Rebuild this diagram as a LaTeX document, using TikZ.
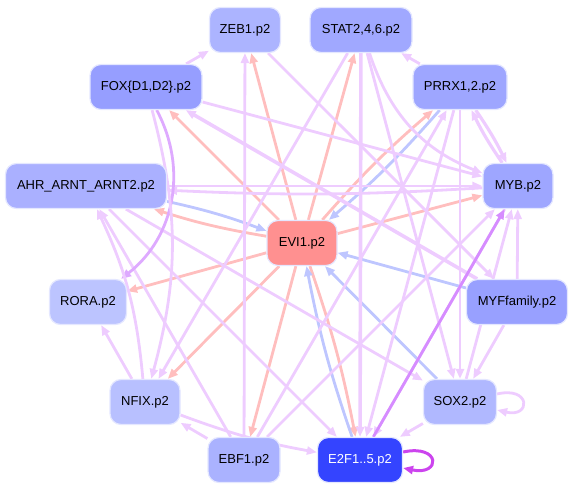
\documentclass[tikz,border=0pt]{standalone}
\usepackage{fontspec}
\setmainfont{Liberation Sans}
\usetikzlibrary{arrows.meta,backgrounds}

\definecolor{lav}{RGB}{238,204,255}
\definecolor{lavDark}{RGB}{222,170,255}
\definecolor{lavDeep}{RGB}{214,140,255}
\definecolor{loopDeep}{RGB}{204,68,238}
\definecolor{redE}{RGB}{255,190,190}
\definecolor{bluE}{RGB}{190,198,255}
\definecolor{nodeRim}{RGB}{228,231,255}

\definecolor{cZeb}{RGB}{172,180,255}
\definecolor{cStat}{RGB}{160,168,255}
\definecolor{cFox}{RGB}{150,158,255}
\definecolor{cPrrx}{RGB}{158,166,255}
\definecolor{cAhr}{RGB}{170,176,255}
\definecolor{cMyb}{RGB}{158,166,255}
\definecolor{cEvi}{RGB}{255,144,144}
\definecolor{cRora}{RGB}{188,196,255}
\definecolor{cMyf}{RGB}{152,160,255}
\definecolor{cNfix}{RGB}{184,192,255}
\definecolor{cSox}{RGB}{176,184,255}
\definecolor{cEbf}{RGB}{170,178,255}
\definecolor{cEtwo}{RGB}{52,68,255}

\begin{document}
\begin{tikzpicture}[
    x=1pt, y=-1pt,
    tf/.style={rounded corners=11pt, draw=nodeRim, line width=1.2pt, minimum height=45pt, inner sep=0pt, font=\fontsize{13}{15}\selectfont},
    reg/.style={line width=2.8pt, lav, -{Triangle[length=10pt,width=8pt]}},
    rep/.style={reg, redE},
    act/.style={reg, bluE},
]
\useasboundingbox (0,0) rectangle (574,489);

% factors
\node[tf, fill=cZeb, minimum width=71pt] (zeb) at (245,30) {ZEB1.p2};
\node[tf, fill=cStat, minimum width=102pt] (stat) at (361,30) {STAT2,4,6.p2};
\node[tf, fill=cFox, minimum width=112pt] (fox) at (146,87) {FOX\{D1,D2\}.p2};
\node[tf, fill=cPrrx, minimum width=94pt] (prrx) at (460,87) {PRRX1,2.p2};
\node[tf, fill=cAhr, minimum width=161pt] (ahr) at (86,186) {AHR\_ARNT\_ARNT2.p2};
\node[tf, fill=cMyb, minimum width=70pt] (myb) at (518,186) {MYB.p2};
\node[tf, fill=cEvi, minimum width=70pt] (evi) at (302,243) {EVI1.p2};
\node[tf, fill=cRora, minimum width=77pt] (rora) at (88,302) {RORA.p2};
\node[tf, fill=cMyf, minimum width=101pt] (myf) at (517,302) {MYFfamily.p2};
\node[tf, fill=cNfix, minimum width=70pt] (nfix) at (145,402) {NFIX.p2};
\node[tf, fill=cSox, minimum width=73pt] (sox) at (460,402) {SOX2.p2};
\node[tf, fill=cEbf, minimum width=72pt] (ebf) at (244,460) {EBF1.p2};
\node[tf, fill=cEtwo, minimum width=85pt, text=white] (e2f) at (360,460) {E2F1..5.p2};

\begin{scope}[on background layer]
% EVI1 out and in
\foreach \t in {fox,zeb,stat,myb,rora,nfix,ebf}
  \draw[rep] (evi) -- (\t);
\foreach \t in {prrx,ahr,e2f}
  \draw[rep] (evi) to[bend left=4] (\t);
\foreach \s in {prrx,ahr,e2f}
  \draw[act] (\s) to[bend left=4] (evi);
\foreach \s in {sox,myf}
  \draw[act] (\s) -- (evi);
% the rest
\foreach \s/\t in {fox/zeb, ebf/zeb, prrx/stat, stat/nfix, stat/sox, fox/myb,
    ahr/myb, myf/myb, sox/myb, ebf/myb, nfix/rora, ebf/nfix, sox/e2f,
    myf/sox, ahr/e2f, ahr/sox, ebf/ahr, ebf/prrx, prrx/e2f, prrx/sox,
    myb/e2f, zeb/myf}
  \draw[reg] (\s) -- (\t);
\draw[reg, line width=3.6pt] (stat) -- (e2f);
\draw[reg, line width=3.6pt] (myf) -- (fox);
\draw[reg] (stat) to[bend right=25] (myb);
\draw[reg] (myb) to[bend left=3] (ahr);
\draw[reg, line width=3.2pt] (prrx) to[bend left=4] (myb);
\draw[reg, line width=3.2pt] (myb) to[bend left=4] (prrx);
\draw[reg, lavDark] (fox) to[bend left=40] (rora);
\draw[reg] (fox) to[bend left=15] (nfix);
\draw[reg] (nfix) to[bend right=10] (ahr);
\draw[reg] (nfix) to[bend right=5] (e2f);
\draw[reg, lavDeep] (e2f) -- (myb);
% self loops
\draw[reg] ([yshift=8pt]sox.east) .. controls +(34,-8) and +(34,8) .. ([yshift=-8pt]sox.east);
\draw[reg, loopDeep, line width=3pt] ([yshift=8pt]e2f.east) .. controls +(38,-8) and +(38,8) .. ([yshift=-8pt]e2f.east);
\end{scope}
\end{tikzpicture}
\end{document}
